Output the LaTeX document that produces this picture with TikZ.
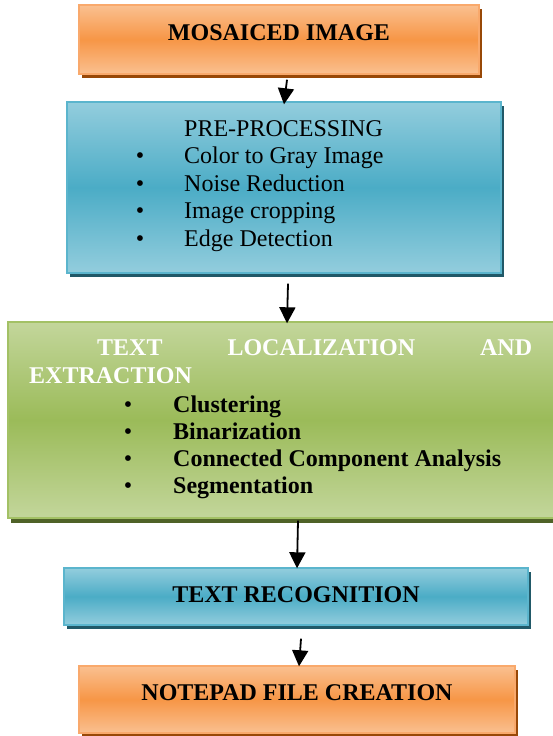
\documentclass[tikz,border=0pt]{standalone}
\usepackage{fontspec}
\setmainfont{Liberation Serif}
\usetikzlibrary{arrows.meta,shadows}
\definecolor{orLight}{HTML}{FAC090}
\definecolor{orMid}{HTML}{F79646}
\definecolor{orEdge}{HTML}{F9A96C}
\definecolor{orShadow}{HTML}{984807}
\definecolor{blLight}{HTML}{93CDDD}
\definecolor{blMid}{HTML}{4BACC6}
\definecolor{blEdge}{HTML}{5BB5CD}
\definecolor{blShadow}{HTML}{215968}
\definecolor{grLight}{HTML}{C3D69B}
\definecolor{grMid}{HTML}{9BBB59}
\definecolor{grEdge}{HTML}{A3C165}
\definecolor{grShadow}{HTML}{4F6228}
\tikzset{
  box/.style={rectangle, inner sep=0pt, line width=1.4pt},
  orbox/.style={box, draw=orEdge, top color=orLight, bottom color=orLight, middle color=orMid,
    drop shadow={shadow xshift=3pt, shadow yshift=-4pt, opacity=1, fill=orShadow}},
  blbox/.style={box, draw=blEdge, top color=blLight, bottom color=blLight, middle color=blMid,
    drop shadow={shadow xshift=3pt, shadow yshift=-4pt, opacity=1, fill=blShadow}},
  grbox/.style={box, draw=grEdge, top color=grLight, bottom color=grLight, middle color=grMid,
    drop shadow={shadow xshift=3pt, shadow yshift=-5pt, opacity=1, fill=grShadow}},
  txt/.style={inner sep=0pt, font=\fontsize{24}{28}\selectfont},
  btxt/.style={txt, font=\fontsize{24}{28}\selectfont\bfseries},
  flow/.style={line width=1.8pt, -{Triangle[width=16pt,length=16pt]}}
}
\begin{document}
\begin{tikzpicture}[x=1pt,y=-1pt]
\useasboundingbox (0,0) rectangle (552,736);
% boxes
\node[orbox, minimum width=400pt, minimum height=69pt] (b1) at (279,39.5) {};
\node[blbox, minimum width=434pt, minimum height=171pt] (b2) at (284,187.5) {};
\node[grbox, minimum width=548pt, minimum height=196pt] (b3) at (282,420) {};
\node[blbox, minimum width=464pt, minimum height=57pt] (b4) at (296,596.5) {};
\node[orbox, minimum width=436pt, minimum height=67pt] (b5) at (297,699.5) {};
% box 1 text
\node[btxt, anchor=base] (t1) at (279,40) {MOSAICED IMAGE};
% box 2 text
\node[txt, anchor=base west] (t2) at (184,136) {PRE-PROCESSING};
\node[txt, anchor=base] (p1) at (140,163) {•};
\node[txt, anchor=base west] (q1) at (184,163) {Color to Gray Image};
\node[txt, anchor=base] (p2) at (140,191) {•};
\node[txt, anchor=base west] (q2) at (184,191) {Noise Reduction};
\node[txt, anchor=base] (p3) at (140,218) {•};
\node[txt, anchor=base west] (q3) at (184,218) {Image cropping};
\node[txt, anchor=base] (p4) at (140,246) {•};
\node[txt, anchor=base west] (q4) at (184,246) {Edge Detection};
% box 3 text
\node[btxt, anchor=base west, text=white] (t3a) at (97,355) {\makebox[435pt][l]{TEXT\hfill LOCALIZATION\hfill AND}};
\node[btxt, anchor=base west, text=white] (t3b) at (29,383) {EXTRACTION};
\node[txt, anchor=base] (r1) at (128,412) {•};
\node[btxt, anchor=base west] (s1) at (173,412) {Clustering};
\node[txt, anchor=base] (r2) at (128,439) {•};
\node[btxt, anchor=base west] (s2) at (173,439) {Binarization};
\node[txt, anchor=base] (r3) at (128,466) {•};
\node[btxt, anchor=base west] (s3) at (173,466) {Connected Component Analysis};
\node[txt, anchor=base] (r4) at (128,493) {•};
\node[btxt, anchor=base west] (s4) at (173,493) {Segmentation};
% box 4, 5 text
\node[btxt, anchor=base] (t4) at (296,602) {TEXT RECOGNITION};
\node[btxt, anchor=base] (t5) at (297,700) {NOTEPAD FILE CREATION};
% arrows
\draw[flow] ([xshift=8pt,yshift=-5pt]b1.south) -- ([yshift=-3pt]b2.north);
\draw[flow] ([xshift=4pt,yshift=-10pt]b2.south) -- ([xshift=5pt,yshift=-2pt]b3.north);
\draw[flow] ([xshift=16pt,yshift=-2pt]b3.south) -- ([xshift=1pt,yshift=-1pt]b4.north);
\draw[flow] ([xshift=5pt,yshift=-13pt]b4.south) -- ([xshift=2pt,yshift=-1pt]b5.north);
\end{tikzpicture}
\end{document}
